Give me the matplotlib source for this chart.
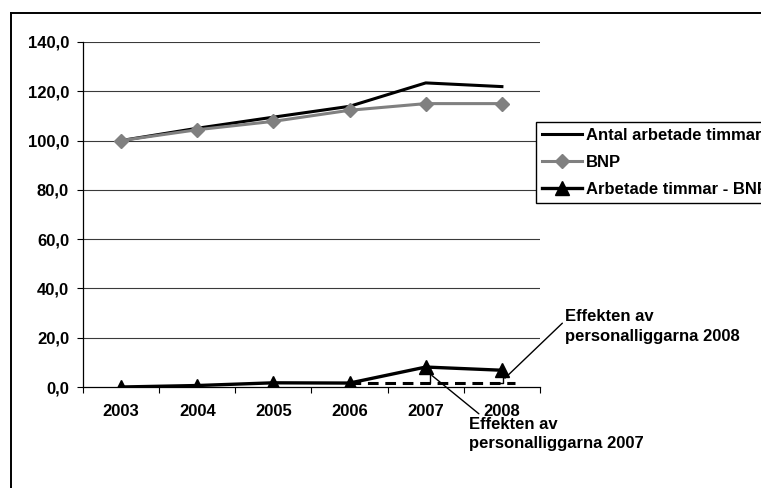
import matplotlib
matplotlib.use('Agg')
import matplotlib.pyplot as plt
from matplotlib.lines import Line2D

plt.rcParams['font.family'] = ['Liberation Sans', 'DejaVu Sans']
plt.rcParams['font.weight'] = 'bold'
plt.rcParams['font.size'] = 12

# data
years = ['2003', '2004', '2005', '2006', '2007', '2008']
antal_timmar = [100.0, 105.0, 109.5, 113.9, 123.4, 121.9]
bnp = [100.0, 104.4, 107.8, 112.3, 115.0, 115.0]
diff = [0.0, 0.6, 1.7, 1.6, 8.1, 6.8]
y_ticks = [0, 20, 40, 60, 80, 100, 120, 140]
labels = ['Antal arbetade timmar', 'BNP', 'Arbetade timmar - BNP']
note_2007 = 'Effekten av\npersonalliggarna 2007'
note_2008 = 'Effekten av\npersonalliggarna 2008'

W, H = 761, 488
fig = plt.figure(figsize=(W / 100, H / 100), dpi=100)
ax = fig.add_axes([83 / W, 1 - 387 / H, (540 - 83) / W, (387 - 42) / H])

x = list(range(len(years)))

# gridlines
for v in y_ticks[1:]:
    ax.axhline(v, color='#3a3a3a', lw=0.8, zorder=1)

ax.plot(x, antal_timmar, color='black', lw=2.2, label=labels[0], zorder=3)
ax.plot(x, bnp, color='#808080', lw=2.2, marker='D', ms=7.5, label=labels[1], zorder=3)
ax.plot(x, diff, color='black', lw=2.4, marker='^', ms=10, label=labels[2], zorder=4)

# dashed reference level from 2006 onwards
base = diff[3]
ax.plot([3, 5.17], [base, base], color='black', lw=2.2, ls=(0, (3.5, 2.2)), zorder=2)

# small brackets showing the effect in 2007 and 2008
for i, off in [(4, 0.06), (5, 0.02)]:
    top = diff[i] - 2.4
    ax.plot([i - 0.02, i + off, i + off, i - 0.03], [top, top, base, base],
            color='black', lw=1.0, zorder=5)

ax.annotate(note_2007, xy=(4.08, diff[4] - 3.4), xytext=(4.57, -12.0),
            ha='left', va='top', linespacing=1.4, annotation_clip=False,
            arrowprops=dict(arrowstyle='-', color='black', lw=1.0,
                            relpos=(0.075, 1.0), shrinkA=0, shrinkB=0))
ax.annotate(note_2008, xy=(5.04, diff[5] - 3.2), xytext=(5.83, 31.5),
            ha='left', va='top', linespacing=1.4, annotation_clip=False,
            arrowprops=dict(arrowstyle='-', color='black', lw=1.0,
                            relpos=(0.0, 0.68), shrinkA=0, shrinkB=0))

ax.set_xlim(-0.5, 5.5)
ax.set_ylim(0, 140)
ax.set_yticks(y_ticks)
ax.set_yticklabels([f'{v:.1f}'.replace('.', ',') for v in y_ticks])
ax.set_xticks([i - 0.5 for i in range(len(years) + 1)])
ax.set_xticklabels([])
ax.set_xticks(x, minor=True)
ax.set_xticklabels(years, minor=True)
ax.tick_params(axis='x', which='major', direction='out', length=4, width=0.8)
ax.tick_params(axis='x', which='minor', length=0, pad=12)
ax.tick_params(axis='y', direction='out', length=4, width=0.8, pad=6)

for s in ['top', 'right']:
    ax.spines[s].set_visible(False)
for s in ['left', 'bottom']:
    ax.spines[s].set_linewidth(0.9)

ax.legend(loc='upper left', bbox_to_anchor=(536 / W, 1 - 122 / H),
          bbox_transform=fig.transFigure, borderaxespad=0, frameon=True,
          fancybox=False, edgecolor='black', framealpha=1, handlelength=2.4,
          handletextpad=0.25, labelspacing=0.72, borderpad=0.35)
ax.get_legend().get_frame().set_linewidth(1.0)

# outer chart border (only left and top edges visible)
fig.add_artist(Line2D([11 / W, 11 / W], [0, 1 - 13 / H], color='black', lw=1.4,
                      transform=fig.transFigure))
fig.add_artist(Line2D([11 / W, 1], [1 - 13 / H, 1 - 13 / H], color='black', lw=1.4,
                      transform=fig.transFigure))

fig.savefig('out.png', dpi=100)
plt.close(fig)
